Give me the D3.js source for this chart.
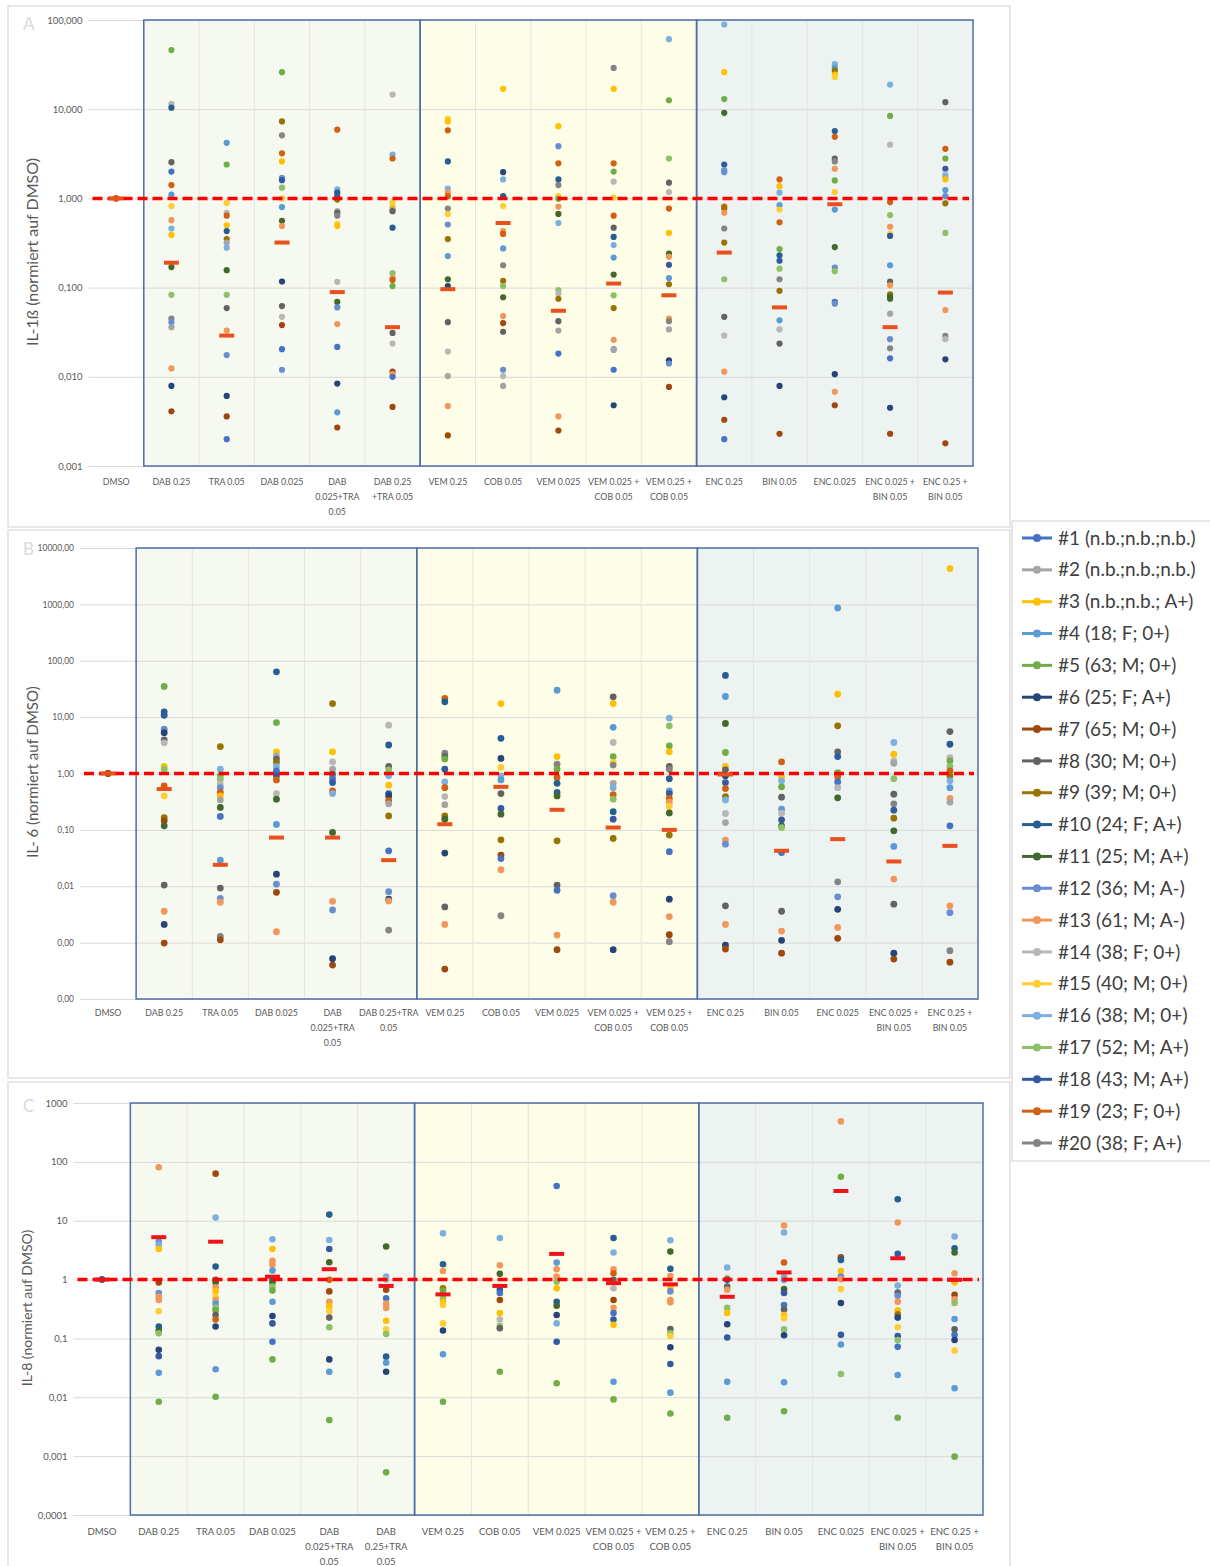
<!DOCTYPE html>
<meta charset="utf-8">
<style>
body {
  margin: 0;
  background: #fff;
  font-family: Lato, "Open Sans", sans-serif;
}
svg text {
  font-family: Lato, "Open Sans", sans-serif;
}
</style>
<body>
<script src="https://d3js.org/d3.v7.min.js"></script>
<script>
var categories = ["DMSO", "DAB 0.25", "TRA 0.05", "DAB 0.025", "DAB 0.025+TRA 0.05", "DAB 0.25+TRA 0.05",
  "VEM 0.25", "COB 0.05", "VEM 0.025", "VEM 0.025+COB 0.05", "VEM 0.25+COB 0.05",
  "ENC 0.25", "BIN 0.05", "ENC 0.025", "ENC 0.025+BIN 0.05", "ENC 0.25+BIN 0.05"];

var labelsA = ["DMSO", "DAB 0.25", "TRA 0.05", "DAB 0.025", "DAB|0.025+TRA|0.05", "DAB 0.25|+TRA 0.05",
  "VEM 0.25", "COB 0.05", "VEM 0.025", "VEM 0.025 +|COB 0.05", "VEM 0.25 +|COB 0.05",
  "ENC 0.25", "BIN 0.05", "ENC 0.025", "ENC 0.025 +|BIN 0.05", "ENC 0.25 +|BIN 0.05"];
var labelsB = ["DMSO", "DAB 0.25", "TRA 0.05", "DAB 0.025", "DAB|0.025+TRA|0.05", "DAB 0.25+TRA|0.05",
  "VEM 0.25", "COB 0.05", "VEM 0.025", "VEM 0.025 +|COB 0.05", "VEM 0.25 +|COB 0.05",
  "ENC 0.25", "BIN 0.05", "ENC 0.025", "ENC 0.025 +|BIN 0.05", "ENC 0.25 +|BIN 0.05"];
var labelsC = ["DMSO", "DAB 0.25", "TRA 0.05", "DAB 0.025", "DAB|0.025+TRA|0.05", "DAB|0.25+TRA|0.05",
  "VEM 0.25", "COB 0.05", "VEM 0.025", "VEM 0.025 +|COB 0.05", "VEM 0.25 +|COB 0.05",
  "ENC 0.25", "BIN 0.05", "ENC 0.025", "ENC 0.025 +|BIN 0.05", "ENC 0.25 +|BIN 0.05"];

var donors = ["#1 (n.b.;n.b.;n.b.)", "#2 (n.b.;n.b.;n.b.)", "#3 (n.b.;n.b.; A+)", "#4 (18; F; 0+)",
  "#5 (63; M; 0+)", "#6 (25; F; A+)", "#7 (65; M; 0+)", "#8 (30; M; 0+)", "#9 (39; M; 0+)",
  "#10 (24; F; A+)", "#11 (25; M; A+)", "#12 (36; M; A-)", "#13 (61; M; A-)", "#14 (38; F; 0+)",
  "#15 (40; M; 0+)", "#16 (38; M; 0+)", "#17 (52; M; A+)", "#18 (43; M; A+)", "#19 (23; F; 0+)",
  "#20 (38; F; A+)"];
var donorColors = ["#4472c4", "#a5a5a5", "#ffc000", "#5b9bd5", "#70ad47", "#264478", "#9e480e",
  "#636363", "#997300", "#255e91", "#43682b", "#698ed0", "#f1975a", "#b7b7b7", "#ffcd33",
  "#7cafdd", "#8cc168", "#335aa1", "#d26012", "#848484"];

// [donor, value] per category
var il1b = [
  [[7,1],[19,1]],
  [[5,46],[14,11.5],[10,10.4],[8,2.55],[1,2.0],[19,1.41],[4,1.1],[15,0.82],[13,0.57],[16,0.46],[3,0.39],[11,0.17],[17,0.083],[20,0.045],[12,0.041],[2,0.036],[13,0.0124],[6,0.0079],[7,0.0041]],
  [[4,4.2],[5,2.4],[15,0.89],[14,0.69],[19,0.64],[3,0.5],[10,0.43],[9,0.35],[2,0.32],[16,0.28],[11,0.157],[17,0.083],[8,0.059],[13,0.033],[12,0.0175],[6,0.0061],[7,0.0036],[1,0.002]],
  [[5,26],[9,7.3],[20,5.1],[19,3.2],[3,2.6],[12,1.7],[18,1.6],[17,1.32],[15,1.0],[4,0.8],[11,0.56],[13,0.49],[6,0.117],[8,0.062],[14,0.047],[7,0.038],[1,0.0204],[12,0.012]],
  [[19,5.9],[16,1.26],[10,1.16],[18,1.06],[9,0.97],[2,0.72],[8,0.69],[20,0.64],[15,0.52],[3,0.49],[14,0.116],[11,0.069],[12,0.06],[13,0.039],[1,0.0216],[6,0.0084],[4,0.004],[7,0.0027]],
  [[14,14.6],[16,3.1],[19,2.8],[15,0.9],[3,0.79],[2,0.75],[8,0.72],[10,0.47],[17,0.145],[13,0.129],[19,0.122],[5,0.104],[8,0.031],[14,0.0236],[7,0.0114],[13,0.0107],[1,0.01],[7,0.0046]],
  [[15,7.8],[3,7.3],[19,5.8],[10,2.6],[16,1.29],[13,1.16],[19,1.06],[20,0.77],[15,0.67],[12,0.51],[9,0.35],[4,0.226],[11,0.124],[6,0.104],[8,0.041],[14,0.0192],[2,0.0102],[13,0.0047],[7,0.0022]],
  [[3,16.9],[6,1.97],[16,1.63],[10,1.06],[15,0.82],[13,0.43],[19,0.4],[4,0.275],[20,0.178],[9,0.119],[17,0.104],[11,0.078],[13,0.048],[7,0.04],[8,0.032],[12,0.012],[14,0.0102],[2,0.0079]],
  [[3,6.45],[12,3.85],[19,2.47],[10,1.63],[20,1.41],[15,1.06],[5,0.99],[13,0.81],[11,0.67],[16,0.53],[17,0.094],[14,0.086],[9,0.075],[8,0.042],[2,0.033],[1,0.0182],[13,0.0036],[7,0.0025]],
  [[20,29],[3,16.9],[19,2.47],[5,2.0],[14,1.54],[15,1.02],[19,0.64],[8,0.47],[10,0.37],[16,0.3],[4,0.217],[11,0.14],[17,0.082],[9,0.059],[13,0.026],[12,0.0204],[2,0.02],[1,0.012],[6,0.0048]],
  [[16,61],[5,12.6],[17,2.8],[8,1.5],[14,1.18],[19,0.77],[3,0.41],[11,0.24],[13,0.222],[18,0.18],[4,0.128],[9,0.109],[13,0.045],[20,0.042],[2,0.034],[6,0.0153],[12,0.0141],[7,0.0077]],
  [[16,89],[3,26],[5,13],[11,9.1],[18,2.4],[4,2.07],[12,1.97],[19,0.81],[9,0.77],[13,0.69],[20,0.46],[9,0.32],[17,0.124],[8,0.047],[14,0.029],[13,0.0114],[6,0.0059],[7,0.0033],[1,0.002]],
  [[19,1.63],[3,1.37],[16,1.16],[4,0.84],[15,0.75],[19,0.54],[5,0.27],[10,0.23],[18,0.2],[17,0.163],[20,0.124],[9,0.092],[4,0.043],[14,0.034],[8,0.0236],[6,0.0079],[7,0.0023]],
  [[16,32],[4,29],[9,27],[3,24.5],[15,23],[10,5.7],[19,4.9],[8,2.8],[20,2.6],[13,2.15],[5,1.59],[15,1.18],[4,0.75],[11,0.285],[12,0.168],[17,0.153],[1,0.069],[12,0.066],[6,0.0107],[13,0.0068],[7,0.0048]],
  [[16,18.9],[5,8.4],[14,4.0],[19,0.91],[17,0.65],[13,0.48],[15,0.4],[10,0.38],[4,0.178],[8,0.117],[13,0.106],[9,0.084],[11,0.079],[11,0.075],[2,0.051],[12,0.0264],[20,0.0209],[1,0.0161],[6,0.0045],[7,0.0023]],
  [[8,12],[19,3.6],[5,2.8],[18,2.15],[14,1.86],[16,1.75],[3,1.63],[4,1.24],[12,1.06],[9,0.88],[17,0.41],[13,0.056],[20,0.0287],[14,0.0264],[6,0.0157],[7,0.0018]]
];
var il1bMedian = [1, 0.19, 0.029, 0.32, 0.089, 0.036, 0.096, 0.53, 0.055, 0.111, 0.082, 0.247, 0.06, 0.86, 0.036, 0.088];

var il6 = [
  [[19,1],[7,1]],
  [[5,34.9],[10,12.4],[18,10.8],[12,6.1],[6,5.3],[8,3.95],[14,3.5],[3,1.33],[17,1.19],[19,0.6],[15,0.4],[9,0.164],[7,0.145],[11,0.118],[8,0.0105],[13,0.0036],[6,0.0021],[7,0.00098]],
  [[9,3.0],[16,1.19],[5,0.93],[17,0.79],[14,0.65],[12,0.56],[19,0.46],[3,0.4],[2,0.34],[11,0.25],[1,0.173],[4,0.029],[8,0.0093],[12,0.0061],[13,0.0052],[20,0.00129],[7,0.00112]],
  [[10,63.5],[5,8.0],[3,2.42],[2,2.06],[8,1.8],[9,1.57],[16,1.33],[1,1.11],[18,0.91],[19,0.77],[14,0.44],[11,0.35],[4,0.125],[6,0.0164],[12,0.0109],[7,0.0078],[13,0.00156]],
  [[9,17.4],[3,2.42],[14,1.61],[2,1.19],[8,0.97],[1,0.81],[18,0.69],[19,0.49],[16,0.44],[11,0.09],[13,0.0054],[12,0.0038],[6,0.00052],[7,0.0004]],
  [[14,7.2],[10,3.2],[8,1.33],[17,1.16],[16,0.91],[3,0.62],[18,0.44],[6,0.4],[19,0.33],[2,0.29],[9,0.177],[1,0.0425],[12,0.008],[6,0.0059],[13,0.0055],[20,0.00167]],
  [[19,21.4],[10,18.7],[20,2.29],[8,2.0],[5,1.8],[18,1.19],[16,0.71],[19,0.56],[14,0.39],[2,0.28],[9,0.177],[11,0.155],[6,0.0387],[8,0.0043],[13,0.0021],[7,0.00034]],
  [[3,17.4],[10,4.2],[6,1.85],[15,1.28],[16,0.91],[4,0.77],[8,0.44],[18,0.24],[11,0.19],[9,0.0667],[7,0.0356],[1,0.031],[13,0.0196],[20,0.003]],
  [[4,30],[3,2.0],[20,1.46],[5,1.19],[19,0.85],[10,0.67],[18,0.46],[11,0.4],[9,0.064],[8,0.0105],[1,0.0085],[13,0.00136],[7,0.00075]],
  [[8,22.9],[3,17.4],[4,6.6],[14,3.55],[5,2.0],[15,1.57],[20,1.41],[2,0.67],[16,0.56],[19,0.42],[17,0.35],[10,0.21],[18,0.155],[9,0.0704],[12,0.0068],[13,0.0052],[6,0.00075]],
  [[16,9.6],[17,7.0],[5,3.1],[3,2.42],[8,1.33],[20,1.19],[10,0.81],[4,0.49],[18,0.44],[19,0.36],[13,0.31],[15,0.26],[11,0.2],[9,0.081],[1,0.041],[6,0.0059],[13,0.0029],[7,0.00138],[20,0.00104]],
  [[10,55],[4,23.2],[11,7.7],[5,2.36],[3,1.33],[8,1.16],[6,0.91],[18,0.69],[19,0.54],[9,0.39],[16,0.34],[14,0.195],[2,0.135],[13,0.0658],[12,0.0558],[8,0.0045],[13,0.0021],[6,0.0009],[7,0.00077]],
  [[19,1.61],[3,0.88],[16,0.74],[5,0.58],[8,0.38],[4,0.233],[14,0.198],[18,0.151],[11,0.118],[17,0.11],[1,0.0397],[8,0.0036],[13,0.0016],[6,0.0011],[7,0.00065]],
  [[4,865],[3,25.5],[9,7.0],[8,2.42],[18,2.0],[5,1.04],[19,0.88],[1,0.71],[14,0.56],[11,0.37],[20,0.012],[12,0.0065],[6,0.0039],[13,0.00186],[7,0.00119]],
  [[16,3.55],[3,2.2],[14,1.68],[2,1.52],[17,0.81],[8,0.43],[20,0.29],[18,0.224],[9,0.161],[11,0.096],[4,0.0508],[13,0.0134],[8,0.0048],[6,0.00065],[7,0.00051]],
  [[3,4310],[8,5.55],[10,3.3],[14,1.92],[5,1.68],[17,1.33],[19,1.11],[9,0.91],[16,0.74],[4,0.56],[13,0.36],[2,0.31],[1,0.118],[13,0.0045],[12,0.0034],[20,0.00072],[7,0.00045]]
];
var il6Median = [1, 0.53, 0.024, 0.073, 0.073, 0.029, 0.126, 0.58, 0.227, 0.11, 0.1, 0.96, 0.0426, 0.0685, 0.0275, 0.052];

var il8 = [
  [[6,1],[10,1]],
  [[13,81],[4,4.4],[16,3.9],[3,3.3],[7,0.89],[12,0.59],[13,0.51],[13,0.45],[15,0.29],[10,0.159],[11,0.136],[17,0.122],[6,0.064],[18,0.05],[4,0.026],[5,0.0084]],
  [[7,63],[16,11.3],[10,1.66],[8,0.99],[11,0.89],[13,0.74],[3,0.63],[15,0.51],[13,0.45],[4,0.39],[17,0.33],[5,0.3],[8,0.25],[19,0.21],[6,0.159],[4,0.03],[5,0.0102]],
  [[16,4.85],[3,3.3],[13,2.08],[13,1.78],[4,1.42],[10,0.99],[11,0.89],[17,0.76],[5,0.65],[4,0.42],[6,0.24],[18,0.18],[1,0.088],[5,0.044]],
  [[10,12.7],[16,4.7],[18,3.3],[11,1.97],[19,0.99],[7,0.63],[13,0.42],[3,0.35],[15,0.29],[8,0.226],[17,0.155],[6,0.044],[4,0.0272],[5,0.0041]],
  [[11,3.64],[16,1.12],[14,0.99],[7,0.67],[1,0.48],[13,0.39],[13,0.33],[3,0.2],[15,0.143],[17,0.119],[10,0.049],[4,0.0387],[6,0.0272],[5,0.00053]],
  [[16,6.1],[10,1.82],[13,1.4],[9,0.71],[5,0.65],[17,0.48],[3,0.42],[15,0.37],[15,0.18],[6,0.136],[4,0.054],[5,0.0084]],
  [[16,5.1],[13,1.75],[11,1.25],[18,0.67],[1,0.59],[7,0.45],[3,0.27],[14,0.21],[17,0.163],[8,0.149],[5,0.0272]],
  [[1,39],[4,1.95],[13,1.5],[13,1.12],[17,0.92],[3,0.71],[10,0.42],[11,0.36],[6,0.25],[16,0.18],[18,0.088],[5,0.0173]],
  [[10,5.1],[16,2.88],[13,1.5],[19,1.28],[8,0.99],[14,0.71],[7,0.45],[13,0.33],[1,0.27],[18,0.21],[3,0.17],[4,0.0184],[5,0.0092]],
  [[16,4.67],[11,3.0],[10,1.52],[13,1.15],[3,0.71],[12,0.63],[13,0.45],[13,0.41],[8,0.145],[17,0.122],[15,0.11],[6,0.071],[18,0.0368],[4,0.012],[5,0.0053]],
  [[16,1.6],[13,1.05],[10,0.99],[8,0.76],[13,0.67],[17,0.33],[3,0.27],[6,0.174],[18,0.104],[4,0.0184],[5,0.0045]],
  [[13,8.3],[16,6.3],[19,1.95],[2,1.12],[12,0.99],[11,0.69],[18,0.59],[1,0.37],[8,0.31],[3,0.25],[15,0.22],[17,0.143],[6,0.113],[4,0.018],[5,0.0058]],
  [[13,487],[5,56],[7,2.4],[10,2.16],[3,1.4],[12,1.12],[13,1.01],[15,0.69],[6,0.4],[18,0.115],[4,0.079],[17,0.0249]],
  [[10,23.2],[13,9.3],[18,2.73],[16,0.79],[8,0.6],[12,0.53],[13,0.42],[3,0.3],[9,0.257],[6,0.226],[15,0.155],[18,0.11],[17,0.094],[1,0.072],[4,0.0239],[5,0.0045]],
  [[16,5.4],[10,3.4],[11,2.88],[13,1.28],[3,0.89],[7,0.55],[13,0.46],[17,0.4],[4,0.214],[8,0.143],[1,0.115],[6,0.094],[15,0.062],[4,0.0142],[5,0.00098]]
];
var il8Median = [1, 5.25, 4.4, 1.12, 1.5, 0.78, 0.56, 0.78, 2.73, 0.87, 0.83, 0.51, 1.32, 32, 2.3, 0.99];

var il1bTicks = [100, 10, 1, 0.1, 0.01, 0.001];
var il1bTickLabels = ["100,000", "10,000", "1,000", "0,100", "0,010", "0,001"];
var il6Ticks = [10000, 1000, 100, 10, 1, 0.1, 0.01, 0.001, 0.0001];
var il6TickLabels = ["10000,00", "1000,00", "100,00", "10,00", "1,00", "0,10", "0,01", "0,00", "0,00"];
var il8Ticks = [1000, 100, 10, 1, 0.1, 0.01, 0.001, 0.0001];
var il8TickLabels = ["1000", "100", "10", "1", "0,1", "0,01", "0,001", "0,0001"];

// shaded drug groups: [first category, last category]
var groups = [[1, 5, "#f6f9ef"], [6, 10, "#fefde7"], [11, 15, "#ecf3f0"]];

var panels = [
  {letter: "A", data: il1b, medians: il1bMedian, ticks: il1bTicks, tickLabels: il1bTickLabels, labels: labelsA,
   title: "IL-1ß (normiert auf DMSO)", frame: [8, 6, 1002, 521], x0: 88.5, x1: 973, yTop: 20, yBot: 466,
   titleX: 32, titleY: 252, titleSize: 16, tickSize: 9.5, labelY: 485, labelSize: 8.8, r: 3.1, medColor: "#e8501e", letterY: 30},
  {letter: "B", data: il6, medians: il6Median, ticks: il6Ticks, tickLabels: il6TickLabels, labels: labelsB,
   title: "IL- 6 (normiert auf DMSO)", frame: [8, 530, 1002, 548], x0: 80, x1: 978, yTop: 548, yBot: 999,
   titleX: 33, titleY: 772, titleSize: 15, tickSize: 8.5, labelY: 1016, labelSize: 8.8, r: 3.4, medColor: "#e8501e", letterY: 555},
  {letter: "C", data: il8, medians: il8Median, ticks: il8Ticks, tickLabels: il8TickLabels, labels: labelsC,
   title: "IL-8 (normiert auf DMSO)", frame: [8, 1082, 1002, 490], x0: 73.5, x1: 983, yTop: 1103, yBot: 1515,
   titleX: 27, titleY: 1308, titleSize: 14, tickSize: 9.5, labelY: 1535, labelSize: 9.6, r: 3.3, medColor: "#f0141a", letterY: 1112}
];

var svg = d3.select("body").append("svg")
  .attr("width", 1210)
  .attr("height", 1566);

svg.append("rect").attr("width", 1210).attr("height", 1566).attr("fill", "#fff");

panels.forEach(function(p) {
  var g = svg.append("g");

  g.append("rect")
    .attr("x", p.frame[0]).attr("y", p.frame[1])
    .attr("width", p.frame[2]).attr("height", p.frame[3])
    .attr("fill", "#fff").attr("stroke", "#d9d9d9").attr("stroke-width", 1.2);

  var x = d3.scaleBand().domain(categories).range([p.x0, p.x1]);
  var y = d3.scaleLog()
    .domain([p.ticks[p.ticks.length - 1], p.ticks[0]])
    .range([p.yBot, p.yTop]);

  // group backgrounds
  groups.forEach(function(gr) {
    g.append("rect")
      .attr("x", x(categories[gr[0]]))
      .attr("y", p.yTop)
      .attr("width", x(categories[gr[1]]) + x.bandwidth() - x(categories[gr[0]]))
      .attr("height", p.yBot - p.yTop)
      .attr("fill", gr[2]);
  });

  // horizontal grid
  g.append("g")
    .attr("transform", "translate(" + p.x0 + ",0)")
    .call(d3.axisLeft(y).tickValues(p.ticks).tickSize(-(p.x1 - p.x0)).tickFormat(""))
    .call(function(a) {
      a.select(".domain").remove();
      a.selectAll("line").attr("stroke", "#d9d9d9").attr("stroke-width", 1);
    });

  // vertical grid at category borders
  g.selectAll(".vgrid")
    .data(categories.slice(1))
    .enter().append("line")
    .attr("x1", function(d) { return x(d); })
    .attr("x2", function(d) { return x(d); })
    .attr("y1", p.yTop).attr("y2", p.yBot)
    .attr("stroke", "#e4e4e4").attr("stroke-width", 1);

  // group frames
  groups.forEach(function(gr) {
    g.append("rect")
      .attr("x", x(categories[gr[0]]))
      .attr("y", p.yTop)
      .attr("width", x(categories[gr[1]]) + x.bandwidth() - x(categories[gr[0]]))
      .attr("height", p.yBot - p.yTop)
      .attr("fill", "none")
      .attr("stroke", "#4f6fa8").attr("stroke-width", 1.5);
  });

  // y tick labels
  g.append("g")
    .attr("transform", "translate(" + (p.x0 - 6) + ",0)")
    .call(d3.axisLeft(y).tickValues(p.ticks).tickSize(0).tickPadding(0)
      .tickFormat(function(d, i) { return p.tickLabels[i]; }))
    .call(function(a) {
      a.select(".domain").remove();
      a.selectAll("text").attr("fill", "#595959").style("font-size", p.tickSize + "px");
    });

  // x labels
  var lab = g.selectAll(".xlab")
    .data(categories)
    .enter().append("text")
    .attr("text-anchor", "middle")
    .attr("fill", "#595959")
    .style("font-size", p.labelSize + "px");
  lab.each(function(d, i) {
    var t = d3.select(this);
    p.labels[i].split("|").forEach(function(line, k) {
      t.append("tspan")
        .attr("x", x(d) + x.bandwidth() / 2)
        .attr("y", p.labelY + k * 15)
        .text(line);
    });
  });

  // axis title
  g.append("text")
    .attr("transform", "translate(" + p.titleX + "," + p.titleY + ") rotate(-90)")
    .attr("text-anchor", "middle")
    .attr("dy", "0.35em")
    .attr("fill", "#595959")
    .style("font-size", p.titleSize + "px")
    .text(p.title);

  g.append("text")
    .attr("x", p.frame[0] + 15).attr("y", p.letterY)
    .attr("fill", "#d9d9d9")
    .style("font-size", "17px")
    .text(p.letter);

  // dots
  p.data.forEach(function(pts, i) {
    g.selectAll(null)
      .data(pts)
      .enter().append("circle")
      .attr("cx", x(categories[i]) + x.bandwidth() / 2)
      .attr("cy", function(d) { return y(d[1]); })
      .attr("r", p.r)
      .attr("fill", function(d) { return donorColors[d[0] - 1]; });
  });

  // reference line at 1
  g.append("line")
    .attr("x1", p.x0 + 4).attr("x2", p.x1 - 4)
    .attr("y1", y(1)).attr("y2", y(1))
    .attr("stroke", "#ff0000").attr("stroke-width", 3.5)
    .attr("stroke-dasharray", "10,5");

  // medians
  g.selectAll(null)
    .data(p.medians)
    .enter().append("rect")
    .attr("x", function(d, i) { return x(categories[i]) + x.bandwidth() / 2 - 7.5; })
    .attr("y", function(d) { return y(d) - 2; })
    .attr("width", 15).attr("height", 4)
    .attr("fill", p.medColor);
});

// legend
var legend = svg.append("g");
legend.append("rect")
  .attr("x", 1012).attr("y", 521).attr("width", 205).attr("height", 640)
  .attr("fill", "#fff").attr("stroke", "#d9d9d9").attr("stroke-width", 1.2);

var ly = d3.scalePoint().domain(donors).range([538, 1143]);
var item = legend.selectAll(".item")
  .data(donors)
  .enter().append("g")
  .attr("transform", function(d) { return "translate(0," + ly(d) + ")"; });
item.append("line")
  .attr("x1", 1022).attr("x2", 1052)
  .attr("stroke", function(d, i) { return donorColors[i]; })
  .attr("stroke-width", 3);
item.append("circle")
  .attr("cx", 1037).attr("r", 4)
  .attr("fill", function(d, i) { return donorColors[i]; });
item.append("text")
  .attr("x", 1058).attr("dy", "0.35em")
  .attr("fill", "#404040")
  .style("font-size", "19px")
  .text(function(d) { return d; });
</script>
</body>
